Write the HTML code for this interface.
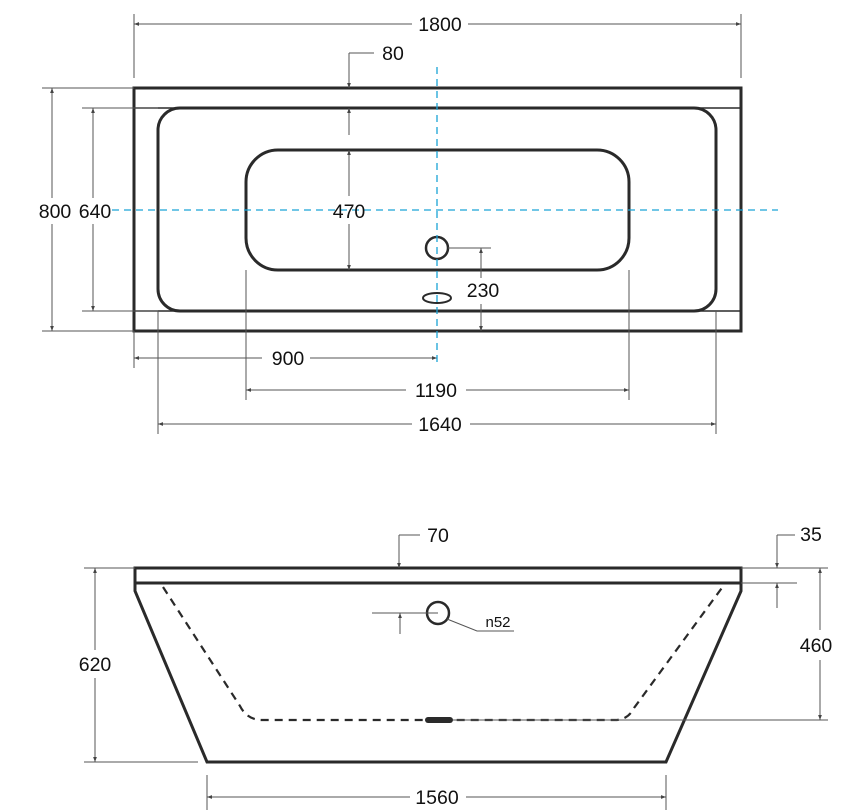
<!DOCTYPE html>
<html><head><meta charset="utf-8"><style>
html,body{margin:0;padding:0;background:#fff;}
svg{display:block;}
text{font-family:"Liberation Sans",sans-serif;fill:#111;}
</style></head><body>
<svg width="864" height="812" viewBox="0 0 864 812" xmlns="http://www.w3.org/2000/svg">
<defs>
<marker id="a" viewBox="0 0 8 6" refX="8" refY="3" markerWidth="5" markerHeight="4" orient="auto-start-reverse"><path d="M0,0 L8,3 L0,6 z" fill="#444"/></marker>
</defs>
<!-- top view body -->
<g stroke="#2a2a2a" fill="none">
<rect x="134" y="88" width="607" height="243" stroke-width="3"/>
<line x1="134" y1="108" x2="741" y2="108" stroke-width="1.5"/>
<line x1="134" y1="311" x2="741" y2="311" stroke-width="1.5"/>
<rect x="158" y="108" width="558" height="203" rx="22" stroke-width="3"/>
<rect x="246" y="150" width="383" height="120" rx="32" stroke-width="3"/>
<circle cx="437" cy="248" r="11" stroke-width="2.5"/>
<ellipse cx="437" cy="298" rx="14" ry="5" stroke-width="2"/>
</g>
<!-- bottom view body -->
<g stroke="#2a2a2a" fill="none">
<rect x="135" y="568" width="606" height="15" stroke-width="3"/>
<polyline points="135,583 135,591 207,762 666,762 741,591 741,583" stroke-width="3"/>
<path d="M163,587 L240,706 Q247,720 262,720 L615,720 Q628,720 634,708 L724,585" stroke-width="2.2" stroke-dasharray="8,6"/>
<circle cx="438" cy="613" r="11" stroke-width="2.5"/>
</g>
<rect x="425" y="717" width="28" height="6" rx="3" fill="#2a2a2a"/>
<g stroke="#555" stroke-width="1" fill="none">
<!-- top view dims -->
<line x1="134" y1="14" x2="134" y2="78"/><line x1="741" y1="14" x2="741" y2="78"/>
<line x1="134" y1="24" x2="412" y2="24" marker-start="url(#a)"/><line x1="468" y1="24" x2="741" y2="24" marker-end="url(#a)"/>
<line x1="374" y1="53" x2="349" y2="53"/><line x1="349" y1="53" x2="349" y2="88" marker-end="url(#a)"/>
<line x1="349" y1="108" x2="349" y2="135" marker-start="url(#a)"/>
<line x1="42" y1="88" x2="134" y2="88"/><line x1="42" y1="331" x2="134" y2="331"/>
<line x1="52" y1="88" x2="52" y2="198" marker-start="url(#a)"/><line x1="52" y1="224" x2="52" y2="331" marker-end="url(#a)"/>
<line x1="82" y1="108" x2="158" y2="108"/><line x1="82" y1="311" x2="158" y2="311"/>
<line x1="93" y1="108" x2="93" y2="198" marker-start="url(#a)"/><line x1="93" y1="224" x2="93" y2="311" marker-end="url(#a)"/>
<line x1="349" y1="150" x2="349" y2="196" marker-start="url(#a)"/><line x1="349" y1="224" x2="349" y2="270" marker-end="url(#a)"/>
<line x1="448" y1="248" x2="491" y2="248"/>
<line x1="481" y1="248" x2="481" y2="278" marker-start="url(#a)"/><line x1="481" y1="304" x2="481" y2="331" marker-end="url(#a)"/>
<line x1="134" y1="331" x2="134" y2="368"/><line x1="158" y1="311" x2="158" y2="434"/>
<line x1="246" y1="270" x2="246" y2="400"/><line x1="629" y1="270" x2="629" y2="400"/>
<line x1="716" y1="311" x2="716" y2="434"/>
<line x1="134" y1="358" x2="262" y2="358" marker-start="url(#a)"/><line x1="310" y1="358" x2="437" y2="358" marker-end="url(#a)"/>
<line x1="246" y1="390" x2="406" y2="390" marker-start="url(#a)"/><line x1="466" y1="390" x2="629" y2="390" marker-end="url(#a)"/>
<line x1="158" y1="424" x2="412" y2="424" marker-start="url(#a)"/><line x1="470" y1="424" x2="716" y2="424" marker-end="url(#a)"/>
<!-- bottom view dims -->
<line x1="420" y1="535" x2="399" y2="535"/><line x1="399" y1="535" x2="399" y2="568" marker-end="url(#a)"/>
<line x1="795" y1="535" x2="777" y2="535"/><line x1="777" y1="535" x2="777" y2="568" marker-end="url(#a)"/>
<line x1="741" y1="583" x2="797" y2="583"/><line x1="777" y1="608" x2="777" y2="583" marker-end="url(#a)"/>
<line x1="741" y1="568" x2="828" y2="568"/><line x1="453" y1="720" x2="828" y2="720"/>
<line x1="820" y1="568" x2="820" y2="630" marker-start="url(#a)"/><line x1="820" y1="660" x2="820" y2="720" marker-end="url(#a)"/>
<line x1="84" y1="568" x2="135" y2="568"/><line x1="84" y1="762" x2="198" y2="762"/>
<line x1="95" y1="568" x2="95" y2="650" marker-start="url(#a)"/><line x1="95" y1="678" x2="95" y2="762" marker-end="url(#a)"/>
<line x1="207" y1="775" x2="207" y2="810"/><line x1="666" y1="775" x2="666" y2="810"/>
<line x1="207" y1="797" x2="410" y2="797" marker-start="url(#a)"/><line x1="466" y1="797" x2="666" y2="797" marker-end="url(#a)"/>
<line x1="372" y1="613" x2="438" y2="613"/><line x1="400" y1="634" x2="400" y2="613" marker-end="url(#a)"/>
<polyline points="447,619 477,631 514,631"/>
</g>
<!-- blue center lines -->
<g stroke="#1aa3d6" stroke-width="1.3" stroke-dasharray="7,5" fill="none">
<line x1="437" y1="67" x2="437" y2="362"/>
<line x1="112" y1="210" x2="778" y2="210"/>
</g>
<!-- labels -->
<g font-size="19.5">
<text x="440" y="31" text-anchor="middle">1800</text>
<text x="393" y="60" text-anchor="middle">80</text>
<text x="55" y="218" text-anchor="middle">800</text>
<text x="95" y="218" text-anchor="middle">640</text>
<text x="349" y="218" text-anchor="middle">470</text>
<text x="483" y="297" text-anchor="middle">230</text>
<text x="288" y="365" text-anchor="middle">900</text>
<text x="436" y="397" text-anchor="middle">1190</text>
<text x="440" y="431" text-anchor="middle">1640</text>
<text x="438" y="542" text-anchor="middle">70</text>
<text x="811" y="541" text-anchor="middle">35</text>
<text x="95" y="671" text-anchor="middle">620</text>
<text x="816" y="652" text-anchor="middle">460</text>
<text x="437" y="804" text-anchor="middle">1560</text>
</g>
<text x="498" y="627" text-anchor="middle" font-size="15" fill="#444">n52</text>
</svg>
</body></html>
